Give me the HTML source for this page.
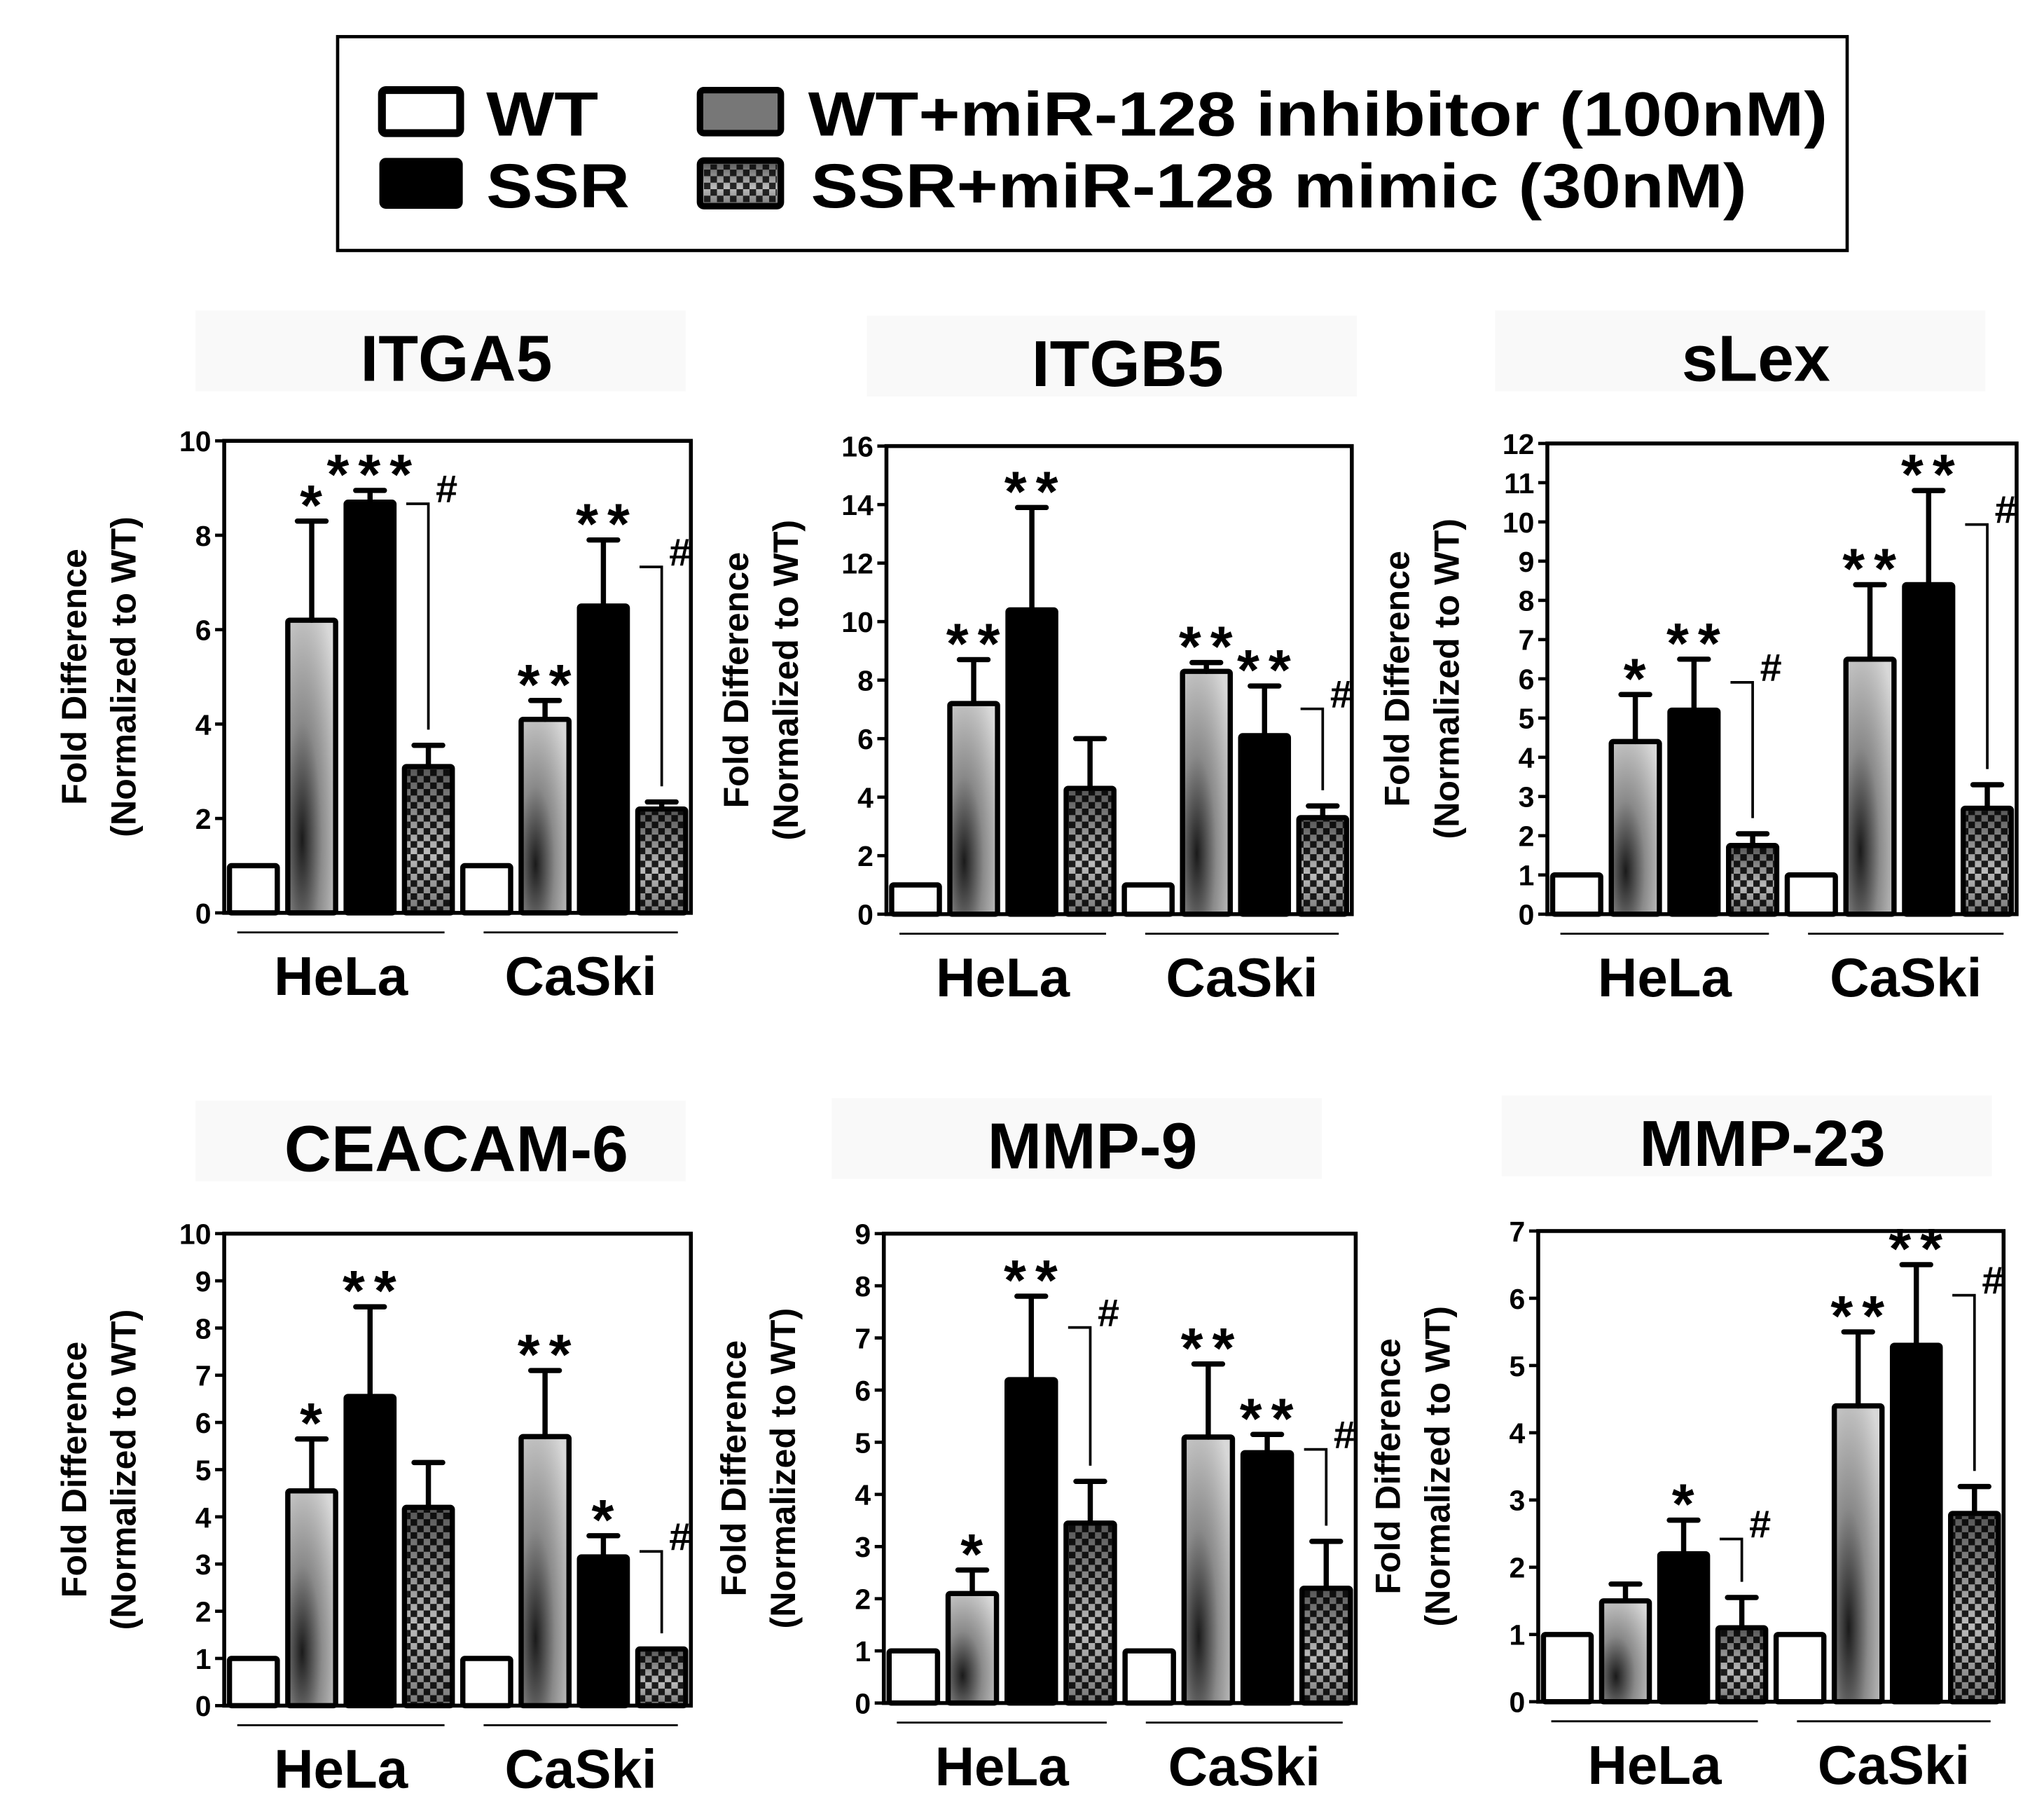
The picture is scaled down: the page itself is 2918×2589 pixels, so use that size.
<!DOCTYPE html>
<html><head><meta charset="utf-8"><style>
html,body{margin:0;padding:0;background:#fff;}
svg{display:block;}
text{font-family:"Liberation Sans",Arial,sans-serif;font-weight:bold;}
</style></head><body>
<svg id="fig" width="2918" height="2589" viewBox="0 0 1568 1391" xmlns="http://www.w3.org/2000/svg">
<defs>
<radialGradient id="gInh" cx="0.3" cy="0.75" r="0.9">
<stop offset="0" stop-color="#1a1a1a"/><stop offset="0.45" stop-color="#8a8a8a"/><stop offset="1" stop-color="#d8d8d8"/>
</radialGradient>
<linearGradient id="gMim" x1="0" y1="0" x2="0" y2="1">
<stop offset="0" stop-color="#555"/><stop offset="0.6" stop-color="#bbb"/><stop offset="1" stop-color="#777"/>
</linearGradient>
<pattern id="checker" width="10" height="10" patternUnits="userSpaceOnUse">
<rect x="0" y="0" width="5" height="5" fill="#000"/><rect x="5" y="5" width="5" height="5" fill="#000"/>
</pattern>
</defs>
<g>
<rect x="259" y="28" width="1158" height="164" fill="#fff" stroke="#000" stroke-width="2.5"/>
<rect x="293" y="69" width="60" height="33" rx="3" fill="#fff" stroke="#000" stroke-width="6"/>
<text x="373" y="104" font-size="48" textLength="86" lengthAdjust="spacingAndGlyphs">WT</text>
<rect x="293" y="123" width="60" height="35" rx="3" fill="#000" stroke="#000" stroke-width="4"/>
<text x="373" y="159" font-size="48" textLength="110" lengthAdjust="spacingAndGlyphs">SSR</text>
<rect x="537" y="69" width="62" height="33" rx="3" fill="#777" stroke="#000" stroke-width="5"/>
<text x="620" y="104" font-size="48" textLength="782" lengthAdjust="spacingAndGlyphs">WT+miR-128 inhibitor (100nM)</text>
<rect x="537" y="123" width="62" height="35" rx="3" fill="url(#gMim)" stroke="#000" stroke-width="5"/>
<rect x="540" y="126" width="56" height="29" fill="url(#checker)" opacity="0.8"/>
<text x="622" y="159" font-size="48" textLength="718" lengthAdjust="spacingAndGlyphs">SSR+miR-128 mimic (30nM)</text>
</g>
<g id="charts"></g>
</svg>
<script>
// Panel data: titles, axis max, tick step, values (8 bars: HeLa WT,inh,SSR,mimic; CaSki WT,inh,SSR,mimic), errors, annotations
const titles = ["ITGA5","ITGB5","sLex","CEACAM-6","MMP-9","MMP-23"];
const yMax = [10,16,12,10,9,7];
const yStep = [2,2,1,1,1,1];
const values = [
 [1,6.2,8.7,3.1, 1,4.1,6.5,2.2],
 [1,7.2,10.4,4.3, 1,8.3,6.1,3.3],
 [1,4.4,5.2,1.75, 1,6.5,8.4,2.7],
 [1,4.55,6.55,4.2, 1,5.7,3.15,1.2],
 [1,2.1,6.2,3.45, 1,5.1,4.8,2.2],
 [1,1.5,2.2,1.1, 1,4.4,5.3,2.8]
];
const errors = [
 [0,2.1,0.25,0.45, 0,0.4,1.4,0.15],
 [0,1.5,3.5,1.7, 0,0.3,1.7,0.4],
 [0,1.2,1.3,0.3, 0,1.9,2.4,0.6],
 [0,1.1,1.9,0.95, 0,1.4,0.45,0],
 [0,0.45,1.6,0.8, 0,1.4,0.35,0.9],
 [0,0.25,0.5,0.45, 0,1.1,1.2,0.4]
];
const stars = [
 ["","*","***","", "","**","**",""],
 ["","**","**","", "","**","**",""],
 ["","*","**","", "","**","**",""],
 ["","*","**","", "","**","*",""],
 ["","*","**","", "","**","**",""],
 ["","","*","", "","**","**",""]
];
const hashes = [
 [true,true],[false,true],[true,true],[false,true],[true,true],[true,true]
];
const groups = ["HeLa","CaSki"];

// layout (not data)
const frames = [
 {x:172,y:338,w:358,h:362,tx:350,ty:292},
 {x:680,y:342,w:357,h:359,tx:865,ty:296},
 {x:1187,y:340,w:360,h:361,tx:1347,ty:292},
 {x:172,y:946,w:358,h:362,tx:350,ty:898},
 {x:678,y:946,w:362,h:360,tx:838,ty:896},
 {x:1180,y:944,w:357,h:361,tx:1352,ty:894}
];
const NS="http://www.w3.org/2000/svg";
const root=document.getElementById('charts');
function mk(tag,attrs,parent){const e=document.createElementNS(NS,tag);for(const k in attrs)e.setAttribute(k,attrs[k]);parent.appendChild(e);return e;}
const fills=["#fff","url(#gInh)","#000","url(#gMim)"];
const fillNames=["wt","inhibitor","ssr","mimic"];

frames.forEach((f,p)=>{
 const g=mk('g',{},root);
 
 
 const y=v=>f.y+f.h-(v/yMax[p])*f.h;
 const slot=f.w/8;
 const tb=mk('rect',{x:f.tx-200,y:f.ty-54,width:376,height:62,fill:'#f9f9f9'},g);
 
 
 const t=mk('text',{x:f.tx,y:f.ty,'font-size':50,'text-anchor':'middle'},g);
 t.textContent=titles[p];
 
 
 const yl=mk('text',{transform:`translate(${f.x-106},${f.y+f.h/2}) rotate(-90)`,'font-size':27,'text-anchor':'middle'},g);
 
 
 const ts1=mk('tspan',{x:0,dy:0},yl);ts1.textContent="Fold Difference";
 const ts2=mk('tspan',{x:0,dy:38},yl);ts2.textContent="(Normalized to WT)";
 for(let v=0;v<=yMax[p]+1e-9;v+=yStep[p]){
  const yy=y(v);
  const tk=mk('line',{x1:f.x-7,x2:f.x,y1:yy,y2:yy,stroke:'#000','stroke-width':2.5},g);
  
  
  const tl=mk('text',{x:f.x-10,y:yy+8,'font-size':22,'text-anchor':'end'},g);
  tl.textContent=String(Math.round(v));
  
  
 }
 values[p].forEach((v,i)=>{
  const cx=f.x+slot*(i+0.5);
  const bw=slot*0.82;
  const top=y(v), base=y(0);
  const b=mk('rect',{x:cx-bw/2,y:top,width:bw,height:base-top,fill:fills[i%4],stroke:'#000','stroke-width':4,rx:1.5},g);
  
  
  if(i%4===3){const c=mk('rect',{x:cx-bw/2+2,y:top+2,width:Math.max(0,bw-4),height:Math.max(0,base-top-4),fill:'url(#checker)',opacity:0.85},g);
   
   }
  const e=errors[p][i];
  let eTop=top;
  if(e>0){
   eTop=y(v+e);
   const el=mk('path',{d:`M${cx},${top} V${eTop} M${cx-11},${eTop} H${cx+11}`,stroke:'#000','stroke-width':4,fill:'none','stroke-linecap':'round'},g);
   
   
  }
  const s=stars[p][i];
  if(s){
   const st=mk('text',{x:cx+3,y:eTop+3,'font-size':44,'text-anchor':'middle','letter-spacing':'7'},g);
   st.textContent=s;
   
   
  }
 });
 [0,1].forEach(gi=>{
  if(!hashes[p][gi])return;
  const mi=gi*4+3, si=gi*4+2;
  const cx=f.x+slot*(mi+0.5);
  const mTop=y(values[p][mi]+errors[p][mi]);
  const sTop=y(values[p][si]+errors[p][si]);
  const sBar=y(values[p][si]);
  const hTop=Math.min(sBar, sTop+0.25*(sBar-sTop))+8;
  const low=mTop-12;
  const br=mk('path',{d:`M${cx},${low} V${hTop} H${cx-17}`,stroke:'#000','stroke-width':2,fill:'none'},g);
  
  
  const h=mk('text',{x:cx+14,y:hTop-1,'font-size':30,'text-anchor':'middle'},g);
  h.textContent="#";
  
  
 });
 const fr=mk('rect',{x:f.x,y:f.y,width:f.w,height:f.h,fill:'none',stroke:'#000','stroke-width':3},g);
 
 
 groups.forEach((gn,gi)=>{
  const x1=f.x+10+gi*(f.w/2+10), x2=f.x+f.w/2-10+gi*(f.w/2);
  const gl=mk('line',{x1:x1,x2:x2,y1:f.y+f.h+15,y2:f.y+f.h+15,stroke:'#000','stroke-width':1.5},g);
  
  
  const lt=mk('text',{x:(x1+x2)/2,y:f.y+f.h+63,'font-size':42,'text-anchor':'middle'},g);
  lt.textContent=gn;
  
  
 });
});
</script>
</body></html>
